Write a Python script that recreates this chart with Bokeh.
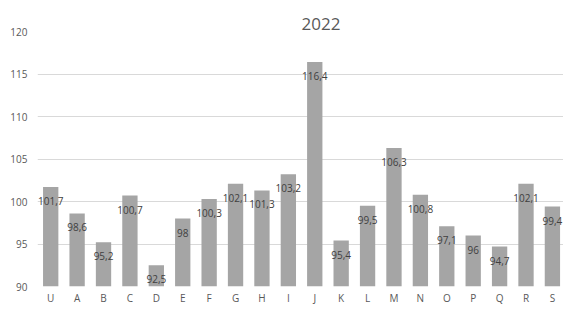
from bokeh.plotting import figure
from bokeh.models import Range1d, FixedTicker, ColumnDataSource, Title
from bokeh.core.properties import value
from bokeh.embed import file_html
from bokeh.resources import INLINE

title_text = "2022"
categories = ["U", "A", "B", "C", "D", "E", "F", "G", "H", "I",
              "J", "K", "L", "M", "N", "O", "P", "Q", "R", "S"]
values = [101.7, 98.6, 95.2, 100.7, 92.5, 98, 100.3, 102.1, 101.3, 103.2,
          116.4, 95.4, 99.5, 106.3, 100.8, 97.1, 96, 94.7, 102.1, 99.4]
y_ticks = [90, 95, 100, 105, 110, 115, 120]

FONT = "Open Sans"
TXT = "#595959"

idx = list(range(len(categories)))
labels = [f"{v:g}".replace(".", ",") for v in values]
src = ColumnDataSource(dict(x=idx, top=values, lab=labels))

p = figure(width=563, height=307, output_backend="svg", toolbar_location=None,
           x_range=Range1d(-0.5, 19.42), y_range=Range1d(90, 120),
           min_border_left=37, min_border_right=0, min_border_top=31,
           min_border_bottom=19)
p.title = Title(text=title_text, align="left", offset=264, standoff=3,
                text_font=FONT, text_font_size="17px", text_font_style="normal",
                text_color=TXT)
p.outline_line_color = None
p.background_fill_color = "white"
p.border_fill_color = "white"

p.vbar(x="x", top="top", bottom=90, width=0.58, source=src,
       fill_color="#A5A5A5", line_color=None)
p.text(x="x", y="top", text="lab", source=src, text_align="center",
       text_baseline="middle", y_offset=14, text_font=value(FONT),
       text_font_size="10px", text_color="#404040")

p.xgrid.grid_line_color = None
p.ygrid.grid_line_color = "#D9D9D9"
p.ygrid.ticker = FixedTicker(ticks=y_ticks)

p.yaxis.ticker = FixedTicker(ticks=y_ticks)
p.yaxis.axis_line_color = None
p.yaxis.major_tick_line_color = None
p.yaxis.minor_tick_line_color = None
p.yaxis.major_tick_out = 0
p.yaxis.major_label_standoff = 10
p.yaxis.major_label_text_font = FONT
p.yaxis.major_label_text_font_size = "10px"
p.yaxis.major_label_text_color = TXT

p.xaxis.ticker = FixedTicker(ticks=idx)
p.xaxis.major_label_overrides = {i: c for i, c in zip(idx, categories)}
p.xaxis.axis_line_color = None
p.xaxis.major_tick_line_color = None
p.xaxis.minor_tick_line_color = None
p.xaxis.major_tick_out = 0
p.xaxis.major_label_standoff = 4
p.xaxis.major_label_text_font = FONT
p.xaxis.major_label_text_font_size = "10px"
p.xaxis.major_label_text_color = TXT

open("out.html", "w").write(file_html(p, INLINE))
